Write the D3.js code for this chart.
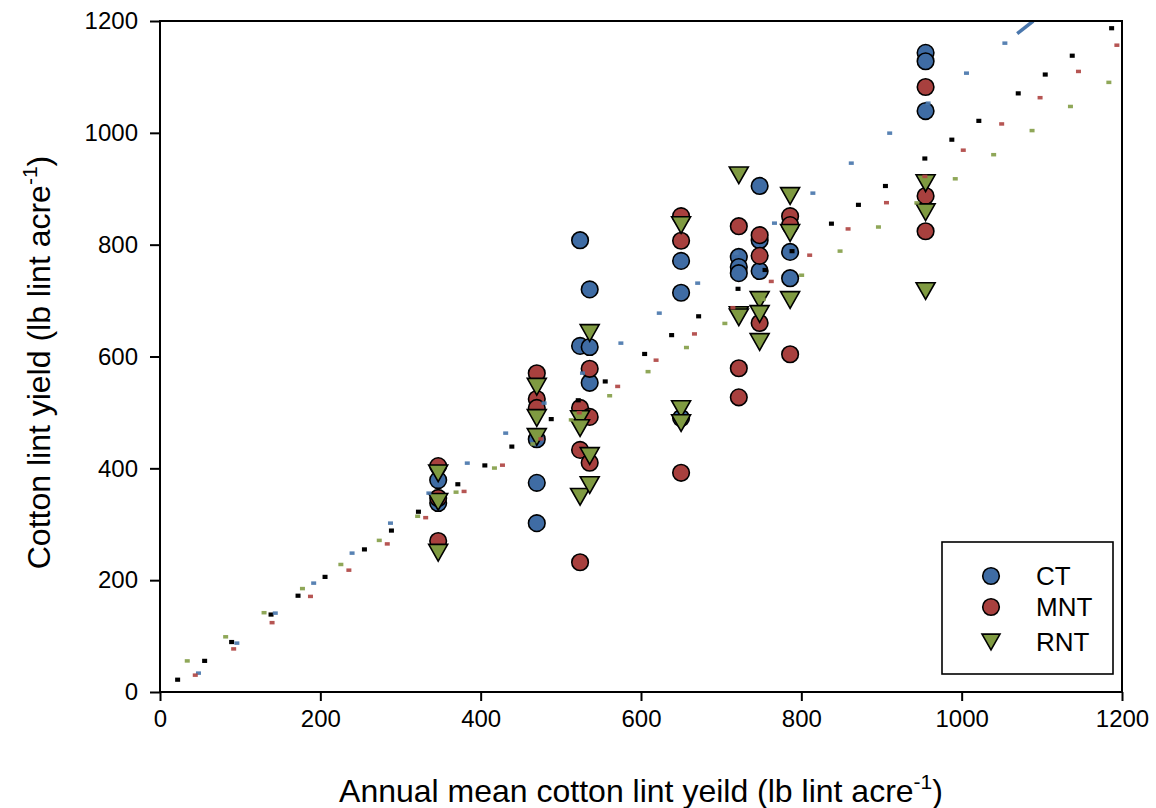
<!DOCTYPE html>
<html>
<head>
<meta charset="utf-8">
<script src="https://cdn.jsdelivr.net/npm/d3@7"></script>
<style>
  body { margin: 0; background: #fff; }
  text { font-family: "Liberation Sans", Arial, sans-serif; fill: #000; }
</style>
</head>
<body>
<div id="chart"></div>
<script>
var svgWidth = 1156;
var svgHeight = 808;

var margin = { top: 21, right: 34, bottom: 116, left: 160 };
var width = svgWidth - margin.left - margin.right;
var height = svgHeight - margin.top - margin.bottom;

// mean yield of each site-year (x) and the plot yields per treatment (y)
var siteMeans = [347, 470, 524, 536, 650, 722, 748, 786, 955];
var ctYield = [[379, 338], [452, 374, 302], [808, 619], [720, 617, 553], [771, 714, 490],
  [778, 760, 749], [905, 808, 753], [787, 740], [1143, 1128, 1039]];
var mntYield = [[404, 347, 270], [570, 524, 508], [508, 433, 232], [578, 492, 410], [851, 807, 392],
  [833, 579, 527], [817, 780, 660], [851, 835, 604], [1082, 887, 824]];
var rntYield = [[391, 340, 249], [546, 490, 456], [488, 472, 349], [642, 422, 370], [835, 506, 481],
  [924, 674, 670], [701, 676, 626], [887, 821, 701], [910, 858, 717]];

// fitted lines: 1:1 and one per treatment
var fitNames = ["1:1", "CT", "MNT", "RNT"];
var fitSlopes = [1, 1.12, 0.98, 0.90];
var fitIntercepts = [0, -20, -13, 25];
var fitStart = [22, 48, 44, 34];
var fitColors = ["#000000", "#4a77ad", "#b04744", "#86a04a"];

var treatments = ["CT", "MNT", "RNT"];
var fills = ["#3f6ca4", "#a8403e", "#7f9a41"];
var ticks = [0, 200, 400, 600, 800, 1000, 1200];

var svg = d3.select("#chart").append("svg")
  .attr("width", svgWidth)
  .attr("height", svgHeight);

var chartGroup = svg.append("g")
  .attr("transform", `translate(${margin.left}, ${margin.top})`);

var x = d3.scaleLinear().domain([0, 1200]).range([0, width]);
var y = d3.scaleLinear().domain([0, 1200]).range([height, 0]);

svg.append("defs").append("clipPath").attr("id", "plotClip")
  .append("rect").attr("width", width).attr("height", height);

// down-pointing triangle centred on the point
function triangleDown(s) {
  var h = s * 0.88;
  return `M${-s / 2},${-h / 2}L${s / 2},${-h / 2}L0,${h / 2}Z`;
}

function flatten(values) {
  var out = [];
  values.forEach(function(col, i) {
    col.forEach(function(v) { out.push({ x: siteMeans[i], y: v }); });
  });
  return out;
}

var seriesData = [flatten(ctYield), flatten(mntYield), flatten(rntYield)];

// markers: CT, then MNT, then RNT on top
seriesData.forEach(function(data, k) {
  var g = chartGroup.append("g");
  if (k < 2) {
    g.selectAll("circle").data(data).enter().append("circle")
      .attr("cx", d => x(d.x))
      .attr("cy", d => y(d.y))
      .attr("r", 8.3)
      .attr("fill", fills[k])
      .attr("stroke", "#000")
      .attr("stroke-width", 1.6);
  } else {
    g.selectAll("path").data(data).enter().append("path")
      .attr("d", triangleDown(19))
      .attr("transform", d => `translate(${x(d.x)},${y(d.y)})`)
      .attr("fill", fills[k])
      .attr("stroke", "#000")
      .attr("stroke-width", 1.6)
      .attr("stroke-linejoin", "miter");
  }
});

// the fit lines are drawn as sparse little square dashes, over the markers
var lineGroup = chartGroup.append("g").attr("clip-path", "url(#plotClip)");
fitNames.forEach(function(name, i) {
  var pts = [];
  if (i === 0) {
    // 1:1 line: gaps of 27, 27, 39 px repeating
    var period = x.invert(93.4);
    for (var base = fitStart[0]; base < 1200; base += period) {
      [0, 27, 54].forEach(function(o) { pts.push(base + x.invert(o)); });
    }
  } else {
    var step = x.invert(38.4);
    for (var v = fitStart[i]; v < 1200; v += step) pts.push(v);
  }
  var w = 5, h = i === 0 ? 4.2 : 3.5;
  lineGroup.selectAll(null).data(pts.filter(v => fitSlopes[i] * v + fitIntercepts[i] < 1200))
    .enter().append("rect")
    .attr("x", v => x(v) - w / 2)
    .attr("y", v => y(fitSlopes[i] * v + fitIntercepts[i]) - h / 2)
    .attr("width", w)
    .attr("height", h)
    .attr("fill", fitColors[i])
    .attr("opacity", i === 0 ? 1 : 0.92);
});

// CT fit runs out through the top: last stretch drawn solid
var ctTop = (1200 - fitIntercepts[1]) / fitSlopes[1];
lineGroup.append("line")
  .attr("x1", x(ctTop - 20)).attr("y1", y(fitSlopes[1] * (ctTop - 20) + fitIntercepts[1]))
  .attr("x2", x(ctTop)).attr("y2", y(1200))
  .attr("stroke", fitColors[1])
  .attr("stroke-width", 3.5);

// axes
var leftAxis = d3.axisLeft(y).tickValues(ticks).tickFormat(d3.format("d"))
  .tickSize(10).tickSizeOuter(0).tickPadding(12);
var bottomAxis = d3.axisBottom(x).tickValues(ticks).tickFormat(d3.format("d"))
  .tickSize(9).tickSizeOuter(0).tickPadding(9);

var yAxis = chartGroup.append("g").call(leftAxis);
var xAxis = chartGroup.append("g").attr("transform", `translate(0, ${height})`).call(bottomAxis);

[yAxis, xAxis].forEach(function(a) {
  a.select(".domain").remove();
  a.selectAll(".tick line").attr("stroke", "#000").attr("stroke-width", 2);
  a.selectAll(".tick text").attr("font-size", 24).attr("fill", "#000")
    .style("font-family", "'Liberation Sans', Arial, sans-serif");
});

// frame
chartGroup.append("rect")
  .attr("width", width)
  .attr("height", height)
  .attr("fill", "none")
  .attr("stroke", "#000")
  .attr("stroke-width", 2);

// axis titles
var xTitle = svg.append("text")
  .attr("x", margin.left + width / 2)
  .attr("y", 802)
  .attr("text-anchor", "middle")
  .attr("font-size", 32);
xTitle.append("tspan").text("Annual mean cotton lint yeild (lb lint acre");
xTitle.append("tspan").attr("dy", -13).attr("font-size", 21).text("-1");
xTitle.append("tspan").attr("dy", 13).text(")");

var yTitle = svg.append("text")
  .attr("transform", `translate(50, ${margin.top + height / 2 + 6}) rotate(-90)`)
  .attr("text-anchor", "middle")
  .attr("font-size", 32);
yTitle.append("tspan").text("Cotton lint yield (lb lint acre");
yTitle.append("tspan").attr("dy", -13).attr("font-size", 21).text("-1");
yTitle.append("tspan").attr("dy", 13).text(")");

// legend
var legend = svg.append("g");
legend.append("rect")
  .attr("x", 942).attr("y", 542)
  .attr("width", 171).attr("height", 132)
  .attr("fill", "#fff")
  .attr("stroke", "#000")
  .attr("stroke-width", 1.6);

var legendY = [576, 607, 642];
treatments.forEach(function(t, k) {
  if (k < 2) {
    legend.append("circle")
      .attr("cx", 991).attr("cy", legendY[k]).attr("r", 8.3)
      .attr("fill", fills[k]).attr("stroke", "#000").attr("stroke-width", 1.6);
  } else {
    legend.append("path")
      .attr("d", triangleDown(18))
      .attr("transform", `translate(991,${legendY[k]})`)
      .attr("fill", fills[k]).attr("stroke", "#000").attr("stroke-width", 1.6);
  }
  legend.append("text")
    .attr("x", 1036).attr("y", legendY[k])
    .attr("dy", "0.36em")
    .attr("font-size", 26)
    .text(t);
});
</script>
</body>
</html>
